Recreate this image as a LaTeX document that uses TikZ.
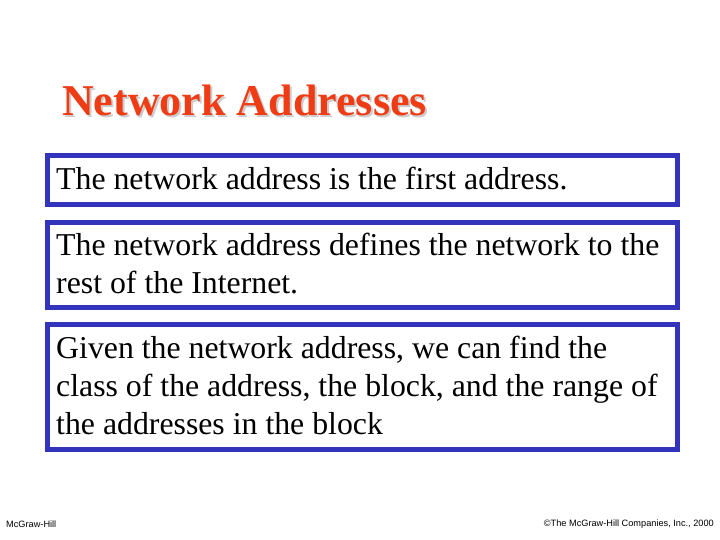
\documentclass[tikz,border=0pt]{standalone}
\usepackage{fontspec}
\setmainfont{Liberation Serif}
\newfontfamily\footfont{Liberation Sans}
\definecolor{boxblue}{RGB}{51,51,187}
\definecolor{titlered}{RGB}{240,60,20}
\tikzset{
 body/.style={font=\fontsize{31.8}{38}\selectfont,align=left,anchor=base west,inner sep=0pt},
 foot/.style={font=\footfont\fontsize{9.2}{10}\selectfont,inner sep=0pt},
 ttl/.style={font=\bfseries\fontsize{44}{46}\selectfont,anchor=base west,inner sep=0pt}
}
\begin{document}
\begin{tikzpicture}[x=1pt,y=-1pt]
\useasboundingbox (0,0) rectangle (720,540);
\node[ttl,text=gray!40] (tshadow) at (64,118) {Network Addresses};
\node[ttl,text=titlered] (title) at (62,116) {Network Addresses};
\draw[boxblue,line width=5pt] (47.5,155.5) rectangle (677.5,204.5);
\draw[boxblue,line width=5pt] (47.5,222.5) rectangle (677.5,307.5);
\draw[boxblue,line width=5pt] (47.5,324.5) rectangle (677.5,449.5);
\node[body] (t1) at (56,190) {The network address is the first address.};
\node[body] (t2) at (56,293) {The network address defines the network to the\\rest of the Internet.};
\node[body] (t3) at (56,434) {Given the network address, we can find the\\class of the address, the block, and the range of\\the addresses in the block};
\node[foot,anchor=west] (f1) at (6,524) {McGraw-Hill};
\node[foot,anchor=east] (f2) at (714,524) {\textcopyright The McGraw-Hill Companies, Inc., 2000};
\end{tikzpicture}
\end{document}
